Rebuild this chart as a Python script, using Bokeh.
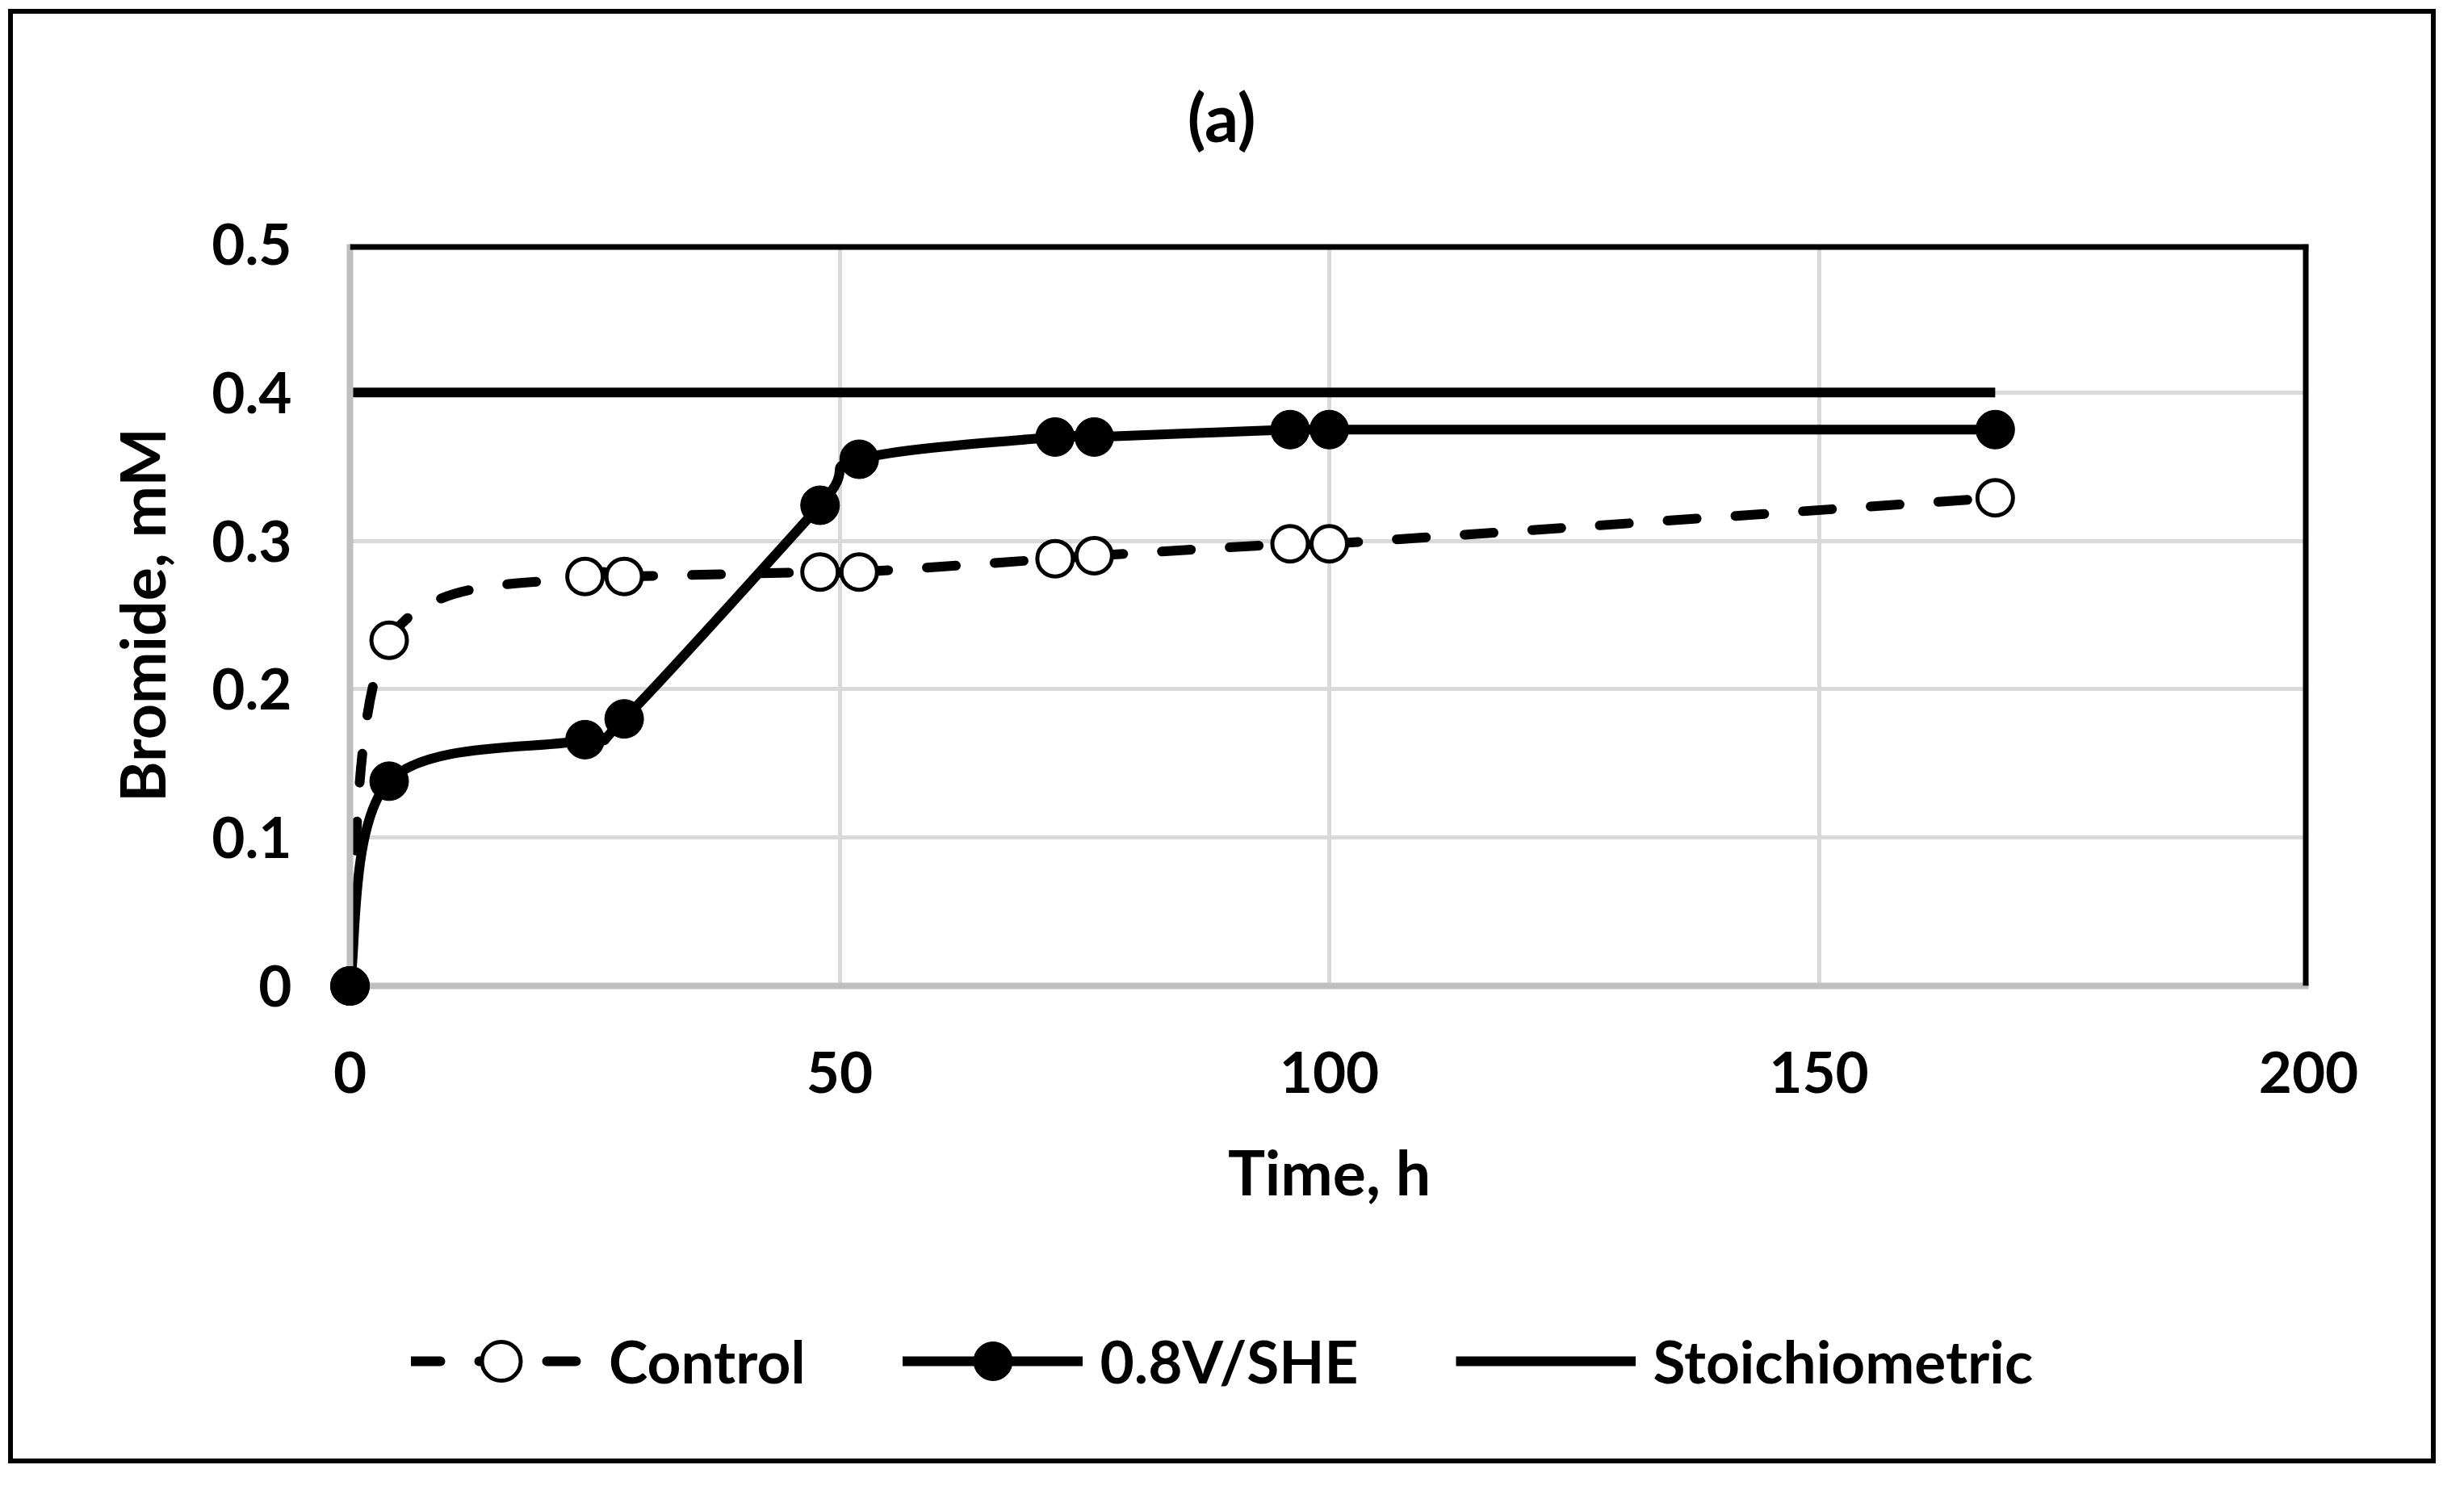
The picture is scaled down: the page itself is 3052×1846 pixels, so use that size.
from bokeh.plotting import figure
from bokeh.layouts import column
from bokeh.models import (Range1d, FixedTicker, Span, Legend, LegendItem, Label,
                          ColumnDataSource, Bezier)
from bokeh.embed import file_html
from bokeh.resources import INLINE

try:
    from bokeh.models import Spline
    HAS_SPLINE = True
except ImportError:
    HAS_SPLINE = False

# ---------------- data ----------------
time_h = [0, 4, 24, 28, 48, 52, 72, 76, 96, 100, 168]
control = [0, 0.233, 0.276, 0.276, 0.279, 0.279, 0.288, 0.290, 0.298, 0.298, 0.329]
v08_she = [0, 0.138, 0.166, 0.180, 0.324, 0.355, 0.370, 0.370, 0.375, 0.375, 0.375]
stoich_time = [0, 168]
stoich = [0.4, 0.4]

x_ticks = [0, 50, 100, 150, 200]
x_tick_labels = ["0", "50", "100", "150", "200"]
y_ticks = [0, 0.1, 0.2, 0.3, 0.4, 0.5]
y_tick_labels = ["0", "0.1", "0.2", "0.3", "0.4", "0.5"]

series_names = ["Control", "0.8V/SHE", "Stoichiometric"]
title_text = "(a)"
x_label = "Time, h"
y_label = "Bromide, mM"

FONT = "Lato"
W = 2995

# ---------------- title strip (frame aligned with the chart's frame) ----------------
p_title = figure(width=W, height=200, x_range=Range1d(0, 200), y_range=Range1d(200, 0),
                 output_backend="svg", toolbar_location=None,
                 x_axis_type=None, y_axis_type=None, min_border=0)
p_title.outline_line_color = None
p_title.xgrid.visible = False
p_title.ygrid.visible = False
p_title.add_layout(Label(x=89.0, y=126, text=title_text, text_align="center",
                         text_baseline="middle", text_font=FONT,
                         text_font_style="bold", text_font_size="83px",
                         text_color="black"))

# ---------------- main chart ----------------
p = figure(width=W, height=1334,
           x_range=Range1d(0, 200), y_range=Range1d(0, 0.5),
           output_backend="svg", toolbar_location=None,
           min_border_left=417, min_border_right=152,
           min_border_top=85, min_border_bottom=330)
p.outline_line_color = None
p.background_fill_color = "white"
p.border_fill_color = "white"

p.xgrid.ticker = FixedTicker(ticks=x_ticks)
p.ygrid.ticker = FixedTicker(ticks=y_ticks)
for g in (p.xgrid, p.ygrid):
    g.grid_line_color = "#d9d9d9"
    g.grid_line_width = 5

for ax in (p.xaxis[0], p.yaxis[0]):
    ax.axis_line_color = "#bfbfbf"
    ax.axis_line_width = 8
    ax.major_tick_line_color = None
    ax.minor_tick_line_color = None
    ax.major_tick_out = 0
    ax.major_tick_in = 0
    ax.major_label_text_font = FONT
    ax.major_label_text_font_style = "bold"
    ax.major_label_text_font_size = "71px"
    ax.major_label_text_color = "black"
    ax.axis_label_text_font = FONT
    ax.axis_label_text_font_style = "bold"
    ax.axis_label_text_font_size = "77px"
    ax.axis_label_text_color = "black"

p.xaxis.ticker = FixedTicker(ticks=x_ticks)
p.xaxis.major_label_overrides = {t: l for t, l in zip(x_ticks, x_tick_labels)}
p.xaxis.major_label_standoff = 81
p.xaxis.axis_label = x_label
p.xaxis.axis_label_standoff = 48

p.yaxis.ticker = FixedTicker(ticks=y_ticks)
p.yaxis.major_label_overrides = {t: l for t, l in zip(y_ticks, y_tick_labels)}
p.yaxis.major_label_standoff = 72
p.yaxis.axis_label = y_label
p.yaxis.axis_label_standoff = 38

# plot-area border on top / right (black)
p.add_layout(Span(location=0.5, dimension="width", line_color="black", line_width=14))
p.add_layout(Span(location=200, dimension="height", line_color="black", line_width=14))


def smooth_line(xs, ys, **kw):
    if HAS_SPLINE:
        src = ColumnDataSource(dict(x=xs, y=ys))
        glyph = Spline(x="x", y="y", tension=0.5, **kw)
        return p.add_glyph(src, glyph)
    n = len(xs)
    px = [xs[0]] + list(xs) + [xs[-1]]
    py = [ys[0]] + list(ys) + [ys[-1]]
    d = dict(x0=[], y0=[], x1=[], y1=[], cx0=[], cy0=[], cx1=[], cy1=[])
    for i in range(1, n):
        d["x0"].append(px[i]); d["y0"].append(py[i])
        d["x1"].append(px[i + 1]); d["y1"].append(py[i + 1])
        d["cx0"].append(px[i] + (px[i + 1] - px[i - 1]) / 6)
        d["cy0"].append(py[i] + (py[i + 1] - py[i - 1]) / 6)
        d["cx1"].append(px[i + 1] - (px[i + 2] - px[i]) / 6)
        d["cy1"].append(py[i + 1] - (py[i + 2] - py[i]) / 6)
    src = ColumnDataSource(d)
    glyph = Bezier(x0="x0", y0="y0", x1="x1", y1="y1", cx0="cx0", cy0="cy0",
                   cx1="cx1", cy1="cy1", **kw)
    return p.add_glyph(src, glyph)


CTRL_LINE = dict(line_color="black", line_width=12, line_dash="36 48", line_cap="round")
CTRL_MARK = dict(marker="circle", size=44, fill_color="white", line_color="black", line_width=5)
V_LINE = dict(line_color="black", line_width=12, line_cap="round")
V_MARK = dict(marker="circle", size=48, fill_color="black", line_color="black", line_width=1)
ST_LINE = dict(line_color="black", line_width=12)

smooth_line(time_h, control, **CTRL_LINE)
p.scatter(time_h, control, level="overlay", **CTRL_MARK)
smooth_line(time_h, v08_she, **V_LINE)
p.scatter(time_h, v08_she, level="overlay", **V_MARK)
p.line(stoich_time, stoich, **ST_LINE)

# ---------------- legend strip (frame aligned with the chart's frame) ----------------
p_leg = figure(width=W, height=256, x_range=Range1d(-20, -10), y_range=Range1d(-20, -10),
               output_backend="svg", toolbar_location=None,
               x_axis_type=None, y_axis_type=None, min_border=0)
p_leg.outline_line_color = None
p_leg.xgrid.visible = False
p_leg.ygrid.visible = False
lc = p_leg.line(time_h, control, **CTRL_LINE)
mc = p_leg.scatter(time_h, control, **CTRL_MARK)
lv = p_leg.line(time_h, v08_she, **V_LINE)
mv = p_leg.scatter(time_h, v08_she, **V_MARK)
ls = p_leg.line(stoich_time, stoich, **ST_LINE)

legend = Legend(items=[
    LegendItem(label=series_names[0], renderers=[lc, mc]),
    LegendItem(label=series_names[1], renderers=[lv, mv]),
    LegendItem(label=series_names[2], renderers=[ls]),
], orientation="horizontal", location=(76, 61),
    glyph_width=223, glyph_height=120, label_standoff=22, spacing=120,
    padding=0, margin=0, border_line_color=None, background_fill_alpha=0,
    label_text_font=FONT, label_text_font_style="bold",
    label_text_font_size="73px", label_text_color="black")
p_leg.add_layout(legend)

layout = column(p_title, p, p_leg, spacing=0,
                styles={"border": "6px solid black"}, margin=(11, 0, 0, 10))

open("out.html", "w").write(file_html(layout, INLINE))
